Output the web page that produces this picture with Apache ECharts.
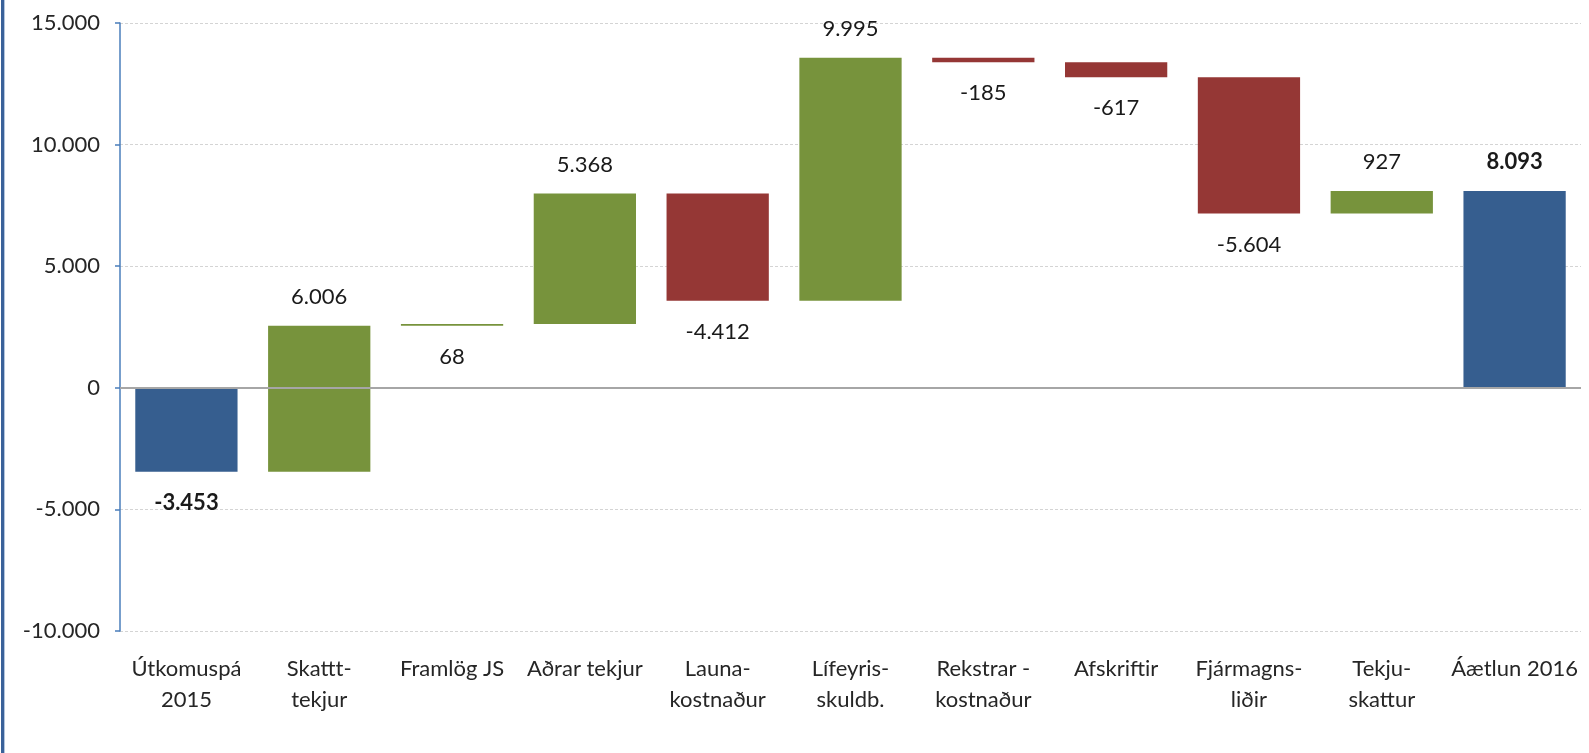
<!DOCTYPE html>
<html>
<head>
<meta charset="utf-8">
<script src="https://cdn.jsdelivr.net/npm/echarts@6/dist/echarts.min.js"></script>
<style>
  html, body { margin: 0; padding: 0; background: #ffffff; }
  #chart { width: 1589px; height: 753px; }
</style>
</head>
<body>
<div id="chart"></div>
<script>
// categories along the bottom
var categories = ['Útkomuspá\n2015', 'Skattt-\ntekjur', 'Framlög JS', 'Aðrar tekjur', 'Launa-\nkostnaður',
  'Lífeyris-\nskuldb.', 'Rekstrar -\nkostnaður', 'Afskriftir', 'Fjármagns-\nliðir', 'Tekju-\nskattur', 'Áætlun 2016']
// 'total' bars start at zero, 'step' bars move from the running total
var kinds = ['total', 'step', 'step', 'step', 'step', 'step', 'step', 'step', 'step', 'step', 'total']
var amounts = [-3453, 6006, 68, 5368, -4412, 9995, -185, -617, -5604, 927, 8093]
var yTicks = [-10000, -5000, 0, 5000, 10000, 15000]

var blue = '#365e8f'
var green = '#77933c'
var red = '#953735'

function fmt (v) {
  var s = String(Math.abs(v)).replace(/\B(?=(\d{3})+(?!\d))/g, '.')
  return (v < 0 ? '-' : '') + s
}

// build [index, low, high, delta] rows for the custom series
var rows = []
var running = 0
for (var i = 0; i < amounts.length; i++) {
  var from, to
  if (kinds[i] === 'total') {
    from = 0
    to = amounts[i]
    running = amounts[i]
  } else {
    from = running
    to = running + amounts[i]
    running = to
  }
  rows.push([i, Math.min(from, to), Math.max(from, to), amounts[i]])
}

function renderItem (params, api) {
  var idx = api.value(0)
  var lo = api.value(1)
  var hi = api.value(2)
  var d = api.value(3)
  var kind = kinds[params.dataIndex]
  var pTop = api.coord([idx, hi])
  var pBot = api.coord([idx, lo])
  var bw = api.size([1, 0])[0] * 0.77
  var color = kind === 'total' ? blue : (d >= 0 ? green : red)
  var below = d < 0 || Math.abs(d) < 100
  var ty = below ? pBot[1] + 31 : pTop[1] - 29
  return {
    type: 'group',
    children: [{
      type: 'rect',
      shape: { x: pTop[0] - bw / 2, y: pTop[1], width: bw, height: Math.max(pBot[1] - pTop[1], 1.5) },
      style: { fill: color }
    }, {
      type: 'text',
      x: pTop[0],
      y: ty,
      style: {
        text: fmt(d),
        fill: '#1a1a1a',
        font: (kind === 'total' ? 'bold ' : '') + '22px Lato',
        align: 'center',
        verticalAlign: 'middle'
      }
    }]
  }
}

var chart = echarts.init(document.getElementById('chart'))
chart.setOption({
  animation: false,
  textStyle: { fontFamily: 'Lato' },
  grid: { left: 120, right: 8, top: 23, bottom: 122 },
  graphic: [
    { type: 'rect', left: 1, top: 0, shape: { width: 3, height: 753 }, style: { fill: '#3a629a' } },
    { type: 'rect', left: 4, top: 0, shape: { width: 1, height: 753 }, style: { fill: '#b4c6de' } }
  ],
  xAxis: {
    type: 'category',
    data: categories,
    axisLine: { show: false, onZero: false },
    axisTick: { show: false },
    axisLabel: { color: '#262626', fontSize: 22, lineHeight: 31, margin: 22, interval: 0 }
  },
  yAxis: {
    type: 'value',
    min: yTicks[0],
    max: yTicks[yTicks.length - 1],
    interval: 5000,
    axisLine: { show: true, lineStyle: { color: '#4a7ebb', width: 1.5 } },
    axisTick: { show: true, length: 5, lineStyle: { color: '#4a7ebb', width: 1.5 } },
    axisLabel: { color: '#262626', fontSize: 22, margin: 20, formatter: fmt },
    splitLine: { lineStyle: { color: '#d4d4d4', type: [3, 2], width: 1 } }
  },
  series: [{
    type: 'custom',
    renderItem: renderItem,
    encode: { x: 0, y: [1, 2] },
    data: rows,
    z: 3,
    markLine: {
      silent: true,
      symbol: 'none',
      label: { show: false },
      lineStyle: { color: '#a6a6a6', type: 'solid', width: 2 },
      data: [{ yAxis: 0 }]
    }
  }]
})
</script>
</body>
</html>
